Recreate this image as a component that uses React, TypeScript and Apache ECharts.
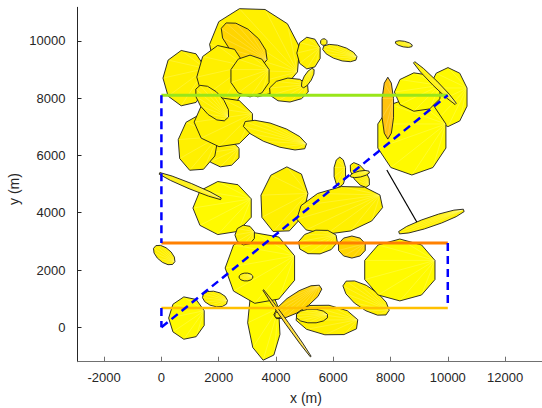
import React, { useEffect, useRef } from 'react';
import * as echarts from 'echarts';

const xTicks = [-2000, 0, 2000, 4000, 6000, 8000, 10000, 12000];
const yTicks = [0, 2000, 4000, 6000, 8000, 10000];
const xRange = [-2930, 13290];
const yRange = [-1200, 11170];

// each patch: [centre x (m), centre y (m), semi-axis x (m), semi-axis y (m), rotation (deg), vertices, tone]
const patchEllipses: [number, number, number, number, number, number, string][] = [
  [3267, 9608, 1650, 1500, -40, 11, 'yellow'],
  [2890, 9887, 995, 490, -42, 12, 'gold'],
  [824, 8698, 770, 980, 0, 9, 'yellow'],
  [2115, 8733, 880, 1120, 0, 9, 'yellow'],
  [3094, 8771, 700, 730, 0, 10, 'yellow'],
  [4452, 8282, 700, 420, 5, 10, 'yellow'],
  [5148, 9573, 420, 560, 0, 9, 'yellow'],
  [5671, 9957, 120, 120, 0, 8, 'yellow'],
  [6230, 9573, 630, 245, -18, 12, 'yellow'],
  [5113, 8700, 385, 140, 60, 10, 'yellow'],
  [2157, 6083, 590, 490, 0, 9, 'yellow'],
  [1277, 6431, 700, 1000, -10, 9, 'yellow'],
  [2192, 7163, 1050, 870, 0, 9, 'yellow'],
  [1773, 7826, 770, 385, -48, 12, 'yellow'],
  [3965, 6708, 1180, 350, -20, 12, 'yellow'],
  [2150, 4163, 1050, 940, 0, 9, 'bright'],
  [1005, 4930, 1220, 100, -22.5, 10, 'yellow'],
  [98, 2523, 450, 245, -40, 12, 'yellow'],
  [6230, 5421, 210, 520, 0, 10, 'yellow'],
  [6930, 5316, 500, 240, -55, 10, 'yellow'],
  [6930, 5350, 350, 105, 12, 10, 'yellow'],
  [4279, 4443, 820, 1170, -12, 9, 'yellow'],
  [6232, 4093, 1540, 800, 12, 11, 'yellow'],
  [5466, 2977, 700, 420, 10, 10, 'yellow'],
  [6651, 2802, 490, 385, 0, 10, 'gold'],
  [3581, 185, 570, 1350, 3, 9, 'bright'],
  [3476, 2069, 1250, 1250, 0, 9, 'bright'],
  [2918, 3221, 350, 350, 0, 9, 'yellow'],
  [2953, 1756, 245, 140, 0, 12, 'yellow'],
  [5780, 255, 1120, 520, -8, 10, 'yellow'],
  [5257, 394, 560, 245, 0, 12, 'yellow'],
  [4763, 886, 980, 315, 33, 12, 'gold'],
  [4066, 430, 110, 110, 0, 8, 'yellow'],
  [4386, 140, 1500, 55, -54.5, 10, 'gold'],
  [7146, 1022, 940, 385, -34, 12, 'yellow'],
  [8326, 2002, 1290, 1080, 0, 10, 'bright'],
  [9428, 3692, 1236, 170, 19, 12, 'yellow'],
  [893, 323, 640, 750, 0, 9, 'bright'],
  [1870, 988, 450, 260, -15, 12, 'yellow'],
  [8464, 9887, 310, 100, -12, 10, 'yellow'],
  [10006, 8036, 700, 1030, 0, 10, 'bright'],
  [8746, 6677, 1250, 1360, 0, 10, 'bright'],
  [8956, 8212, 820, 680, 0, 9, 'bright'],
  [7906, 7650, 210, 1080, 0, 10, 'amber'],
  [9550, 8524, 1080, 100, -45, 10, 'yellow'],
];

const greenLine = [[0, 8100], [10000, 8100]];
const orangeLine = [[0, 2940], [10000, 2940]];
const goldLine = [[0, 670], [10000, 670]];
const blueDashedPaths = [
  [[0, 8100], [0, 2940]],
  [[0, 670], [0, 0]],
  [[10000, 2940], [10000, 670]],
  [[0, 0], [10000, 8100]],
];
const blackLine = [[7871, 5490], [8918, 3675]];

const toneColors: Record<string, string> = {
  yellow: '#FFF000',
  bright: '#FFFA00',
  gold: '#FFD500',
  amber: '#FFC20F',
};

export default function App() {
  const ref = useRef<HTMLDivElement>(null);
  useEffect(() => {
    if (!ref.current) return;
    const chart = echarts.init(ref.current, null, { renderer: 'svg' });
    const font = 'Liberation Sans, Arial, Helvetica, sans-serif';
    const lineSeries = (data: number[][], color: string, width: number, dash?: number[]) => ({
      type: 'line',
      data,
      symbol: 'none',
      showSymbol: false,
      silent: true,
      z: 5,
      lineStyle: { color, width, type: dash || 'solid', cap: 'butt' },
    });
    const option: any = {
      animation: false,
      grid: { left: 77.5, top: 7.3, right: 0, bottom: 46.3, containLabel: false, outerBoundsMode: 'none' },
      xAxis: {
        type: 'value',
        min: xRange[0],
        max: xRange[1],
        axisLine: { show: true, onZero: false, lineStyle: { color: '#707070', width: 1 } },
        axisTick: { show: true, inside: true, length: 5, customValues: xTicks, lineStyle: { color: '#707070' } },
        axisLabel: {
          customValues: xTicks, color: '#262626', fontSize: 13, fontFamily: font, margin: 9,
          formatter: (v: number) => String(v),
        },
        splitLine: { show: false },
      },
      yAxis: {
        type: 'value',
        min: yRange[0],
        max: yRange[1],
        axisLine: { show: true, onZero: false, lineStyle: { color: '#262626', width: 1 } },
        axisTick: { show: true, inside: true, length: 4, customValues: yTicks, lineStyle: { color: '#262626' } },
        axisLabel: {
          customValues: yTicks, color: '#262626', fontSize: 13, fontFamily: font, margin: 12,
          formatter: (v: number) => String(v),
        },
        splitLine: { show: false },
      },
      graphic: [
        { type: 'text', left: 290, top: 391, style: { text: 'x (m)', fontSize: 14, fontFamily: font, fill: '#262626' } },
        {
          type: 'text', x: 7, y: 205, rotation: Math.PI / 2,
          style: { text: 'y (m)', fontSize: 14, fontFamily: font, fill: '#262626' },
        },
      ],
      series: [
        {
          type: 'custom',
          clip: true,
          silent: true,
          z: 2,
          data: patchEllipses.map((p) => [p[0], p[1]]),
          encode: { x: 0, y: 1 },
          renderItem: (params: any, api: any) => {
            const [cx, cy, rx, ry, ang, n, tone] = patchEllipses[params.dataIndex];
            const th = (ang * Math.PI) / 180;
            const pts: number[][] = [];
            for (let k = 0; k < n; k++) {
              const t = (2 * Math.PI * k) / n + Math.PI / n;
              const ex = rx * Math.cos(t);
              const ey = ry * Math.sin(t);
              pts.push(api.coord([cx + ex * Math.cos(th) - ey * Math.sin(th), cy + ex * Math.sin(th) + ey * Math.cos(th)]));
            }
            const children: any[] = [
              { type: 'polygon', shape: { points: pts }, style: { fill: toneColors[tone], stroke: 'none' } },
            ];
            for (let k = 2; k < n - 1; k++) {
              children.push({
                type: 'line',
                shape: { x1: pts[0][0], y1: pts[0][1], x2: pts[k][0], y2: pts[k][1] },
                style: { stroke: 'rgba(255,255,255,0.35)', lineWidth: 0.5 },
              });
            }
            children.push({ type: 'polygon', shape: { points: pts }, style: { fill: 'none', stroke: '#1a1a1a', lineWidth: 0.9 } });
            return { type: 'group', children };
          },
        },
        lineSeries(greenLine, '#99E61A', 3),
        lineSeries(orangeLine, '#FF8000', 3),
        lineSeries(goldLine, '#FFC000', 2.5),
        lineSeries(blackLine, '#000000', 1.2),
        ...blueDashedPaths.map((p) => ({ ...lineSeries(p, '#0000FF', 2.5, [8, 5]), z: 6 })),
      ],
    };
    chart.setOption(option);
    return () => chart.dispose();
  }, []);
  return <div ref={ref} style={{ position: 'absolute', left: 0, top: 0, width: 542, height: 408 }} />;
}
